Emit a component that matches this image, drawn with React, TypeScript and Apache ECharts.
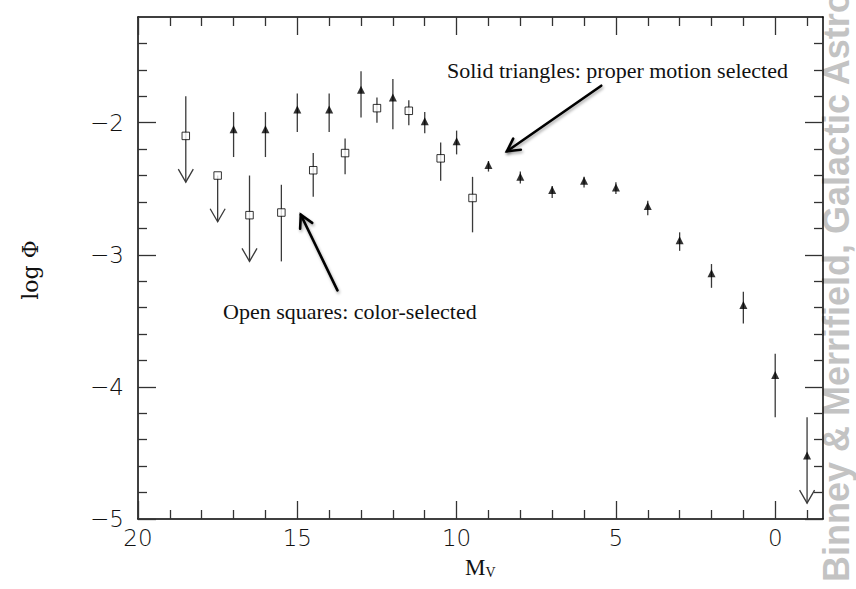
import React, { useEffect, useRef } from 'react';
import * as echarts from 'echarts';

// ---- axis ticks ----
const xMajorTicks = [0, 5, 10, 15, 20];
const xMinorTicks = [-1, 1, 2, 3, 4, 6, 7, 8, 9, 11, 12, 13, 14, 16, 17, 18, 19];
const yMajorTicks = [-5, -4, -3, -2];
const yMinorTicks = [-4.8, -4.6, -4.4, -4.2, -3.8, -3.6, -3.4, -3.2, -2.8, -2.6, -2.4, -2.2, -1.8, -1.6, -1.4];

// ---- open squares: color-selected ----
const squareMv = [18.5, 17.5, 16.5, 15.5, 14.5, 13.5, 12.5, 11.5, 10.5, 9.5];
const squareLogPhi = [-2.10, -2.40, -2.70, -2.68, -2.36, -2.23, -1.89, -1.91, -2.27, -2.57];
const squareHigh = [-1.80, -2.40, -2.40, -2.47, -2.23, -2.12, -1.81, -1.83, -2.15, -2.41];
const squareLow = [-2.45, -2.75, -3.05, -3.05, -2.56, -2.39, -2.00, -2.02, -2.44, -2.83];
const squareUpperLimit = [1, 1, 1, 0, 0, 0, 0, 0, 0, 0];

// ---- solid triangles: proper motion selected ----
const triMv = [17, 16, 15, 14, 13, 12, 11, 10, 9, 8, 7, 6, 5, 4, 3, 2, 1, 0, -1];
const triLogPhi = [-2.05, -2.05, -1.90, -1.90, -1.75, -1.81, -1.99, -2.14, -2.32, -2.41, -2.51, -2.44, -2.49, -2.63, -2.89, -3.14, -3.38, -3.91, -4.52];
const triHigh = [-1.92, -1.92, -1.78, -1.78, -1.61, -1.67, -1.92, -2.06, -2.29, -2.37, -2.48, -2.41, -2.45, -2.59, -2.83, -3.07, -3.28, -3.75, -4.23];
const triLow = [-2.26, -2.26, -2.07, -2.07, -1.96, -2.05, -2.08, -2.24, -2.37, -2.46, -2.57, -2.49, -2.54, -2.70, -2.97, -3.25, -3.52, -4.23, -4.88];
const triUpperLimit = [0, 0, 0, 0, 0, 0, 0, 0, 0, 0, 0, 0, 0, 0, 0, 0, 0, 0, 1];

// ---- annotation arrows (data coords: fromX, fromY, toX, toY) ----
const annotationArrows = [
  [5.46, -1.72, 8.42, -2.216],
  [13.74, -3.269, 14.89, -2.697],
];

const fmt = (v: number) => (v < 0 ? '\u2212' + Math.abs(v) : String(v));

const tickFont = { fontFamily: 'DejaVu Sans', fontWeight: 200 as any, fontSize: 23, color: '#111' };

function makeX(position: 'top' | 'bottom', major: boolean, labels: boolean, line: boolean) {
  return {
    type: 'value',
    position,
    min: -1.5,
    max: 20,
    inverse: true,
    gridIndex: 0,
    splitLine: { show: false },
    axisLine: { show: line, onZero: false, lineStyle: { color: '#000', width: 1.5 } },
    axisTick: {
      show: true,
      inside: true,
      length: major ? 18 : 9,
      customValues: major ? xMajorTicks : xMinorTicks,
      lineStyle: { color: '#333', width: 1.3 },
    },
    axisLabel: labels
      ? { show: true, customValues: xMajorTicks, formatter: fmt, margin: 7, ...tickFont }
      : { show: false },
  };
}

function makeY(position: 'left' | 'right', major: boolean, labels: boolean, line: boolean) {
  return {
    type: 'value',
    position,
    min: -5,
    max: -1.2,
    gridIndex: 0,
    splitLine: { show: false },
    axisLine: { show: line, onZero: false, lineStyle: { color: '#000', width: 1.5 } },
    axisTick: {
      show: true,
      inside: true,
      length: major ? 18 : 9,
      customValues: major ? yMajorTicks : yMinorTicks,
      lineStyle: { color: '#333', width: 1.3 },
    },
    axisLabel: labels
      ? { show: true, customValues: yMajorTicks, formatter: fmt, margin: 14, ...tickFont }
      : { show: false },
  };
}

function errorBarRender(params: any, api: any) {
  const x = api.value(0);
  const lo = api.coord([x, api.value(1)]);
  const hi = api.coord([x, api.value(2)]);
  const limit = api.value(3);
  const style = { stroke: '#3a3a3a', lineWidth: 1.3, fill: 'none' };
  const children: any[] = [
    { type: 'line', shape: { x1: lo[0], y1: lo[1], x2: hi[0], y2: hi[1] }, style },
  ];
  if (limit) {
    children.push({
      type: 'polyline',
      shape: { points: [[lo[0] - 7.5, lo[1] - 13], [lo[0], lo[1]], [lo[0] + 7.5, lo[1] - 13]] },
      style,
    });
  }
  return { type: 'group', children };
}

function arrowRender(params: any, api: any) {
  const p0 = api.coord([api.value(0), api.value(1)]);
  const p1 = api.coord([api.value(2), api.value(3)]);
  const ang = Math.atan2(p0[1] - p1[1], p0[0] - p1[0]);
  const L = 14;
  const a = 0.5;
  const h1 = [p1[0] + L * Math.cos(ang + a), p1[1] + L * Math.sin(ang + a)];
  const h2 = [p1[0] + L * Math.cos(ang - a), p1[1] + L * Math.sin(ang - a)];
  const style = {
    stroke: '#000',
    lineWidth: 2.6,
    fill: 'none',
    lineCap: 'round',
    lineJoin: 'miter',
    shadowBlur: 3,
    shadowColor: 'rgba(0,0,0,0.35)',
    shadowOffsetX: 1,
    shadowOffsetY: 2,
  };
  return {
    type: 'group',
    children: [
      { type: 'line', shape: { x1: p0[0], y1: p0[1], x2: p1[0], y2: p1[1] }, style },
      { type: 'polyline', shape: { points: [h1, p1, h2] }, style },
    ],
  };
}

export default function App() {
  const ref = useRef<HTMLDivElement>(null);
  useEffect(() => {
    document.body.style.margin = '0';
    if (!ref.current) return;
    const chart = echarts.init(ref.current, undefined, { renderer: 'svg' });
    const option: any = {
      animation: false,
      backgroundColor: '#fff',
      grid: { left: 138, right: 33, top: 17, bottom: 70, containLabel: false },
      xAxis: [
        makeX('bottom', true, true, true),
        makeX('bottom', false, false, false),
        makeX('top', true, false, true),
        makeX('top', false, false, false),
      ],
      yAxis: [
        makeY('left', true, true, true),
        makeY('left', false, false, false),
        makeY('right', true, false, true),
        makeY('right', false, false, false),
      ],
      graphic: [
        {
          type: 'text',
          z: -10,
          x: 836,
          y: 582,
          rotation: Math.PI / 2,
          style: {
            text: 'Binney & Merrifield, Galactic Astronomy',
            fill: '#c3c3c3',
            font: 'bold 36px "Liberation Sans", Arial, sans-serif',
            align: 'left',
            verticalAlign: 'middle',
          },
        },
        {
          type: 'text',
          x: 30,
          y: 270,
          rotation: Math.PI / 2,
          style: {
            text: 'log Φ',
            fill: '#111',
            font: '22px "DejaVu Serif", serif',
            align: 'center',
            verticalAlign: 'middle',
          },
        },
        {
          type: 'text',
          x: 465,
          y: 567,
          style: {
            text: '{m|M}{v|V}',
            rich: {
              m: { fontFamily: 'Liberation Serif', fontSize: 23, fill: '#111', color: '#111' },
              v: { fontFamily: 'Liberation Serif', fontSize: 14, fill: '#111', color: '#111', padding: [10, 0, 0, 0] },
            },
            align: 'left',
            verticalAlign: 'middle',
          },
        },
        {
          type: 'text',
          x: 447,
          y: 70,
          style: {
            text: 'Solid triangles: proper motion selected',
            fill: '#111',
            font: '22px "Liberation Serif", "Times New Roman", serif',
            align: 'left',
            verticalAlign: 'middle',
          },
        },
        {
          type: 'text',
          x: 223,
          y: 311,
          style: {
            text: 'Open squares: color-selected',
            fill: '#111',
            font: '22px "Liberation Serif", "Times New Roman", serif',
            align: 'left',
            verticalAlign: 'middle',
          },
        },
      ],
      series: [
        {
          type: 'custom',
          name: 'square errors',
          xAxisIndex: 0,
          yAxisIndex: 0,
          renderItem: errorBarRender,
          encode: { x: 0, y: [1, 2] },
          data: squareMv.map((m, i) => [m, squareLow[i], squareHigh[i], squareUpperLimit[i]]),
          z: 2,
        },
        {
          type: 'custom',
          name: 'triangle errors',
          xAxisIndex: 0,
          yAxisIndex: 0,
          renderItem: errorBarRender,
          encode: { x: 0, y: [1, 2] },
          data: triMv.map((m, i) => [m, triLow[i], triHigh[i], triUpperLimit[i]]),
          z: 2,
        },
        {
          type: 'scatter',
          name: 'Open squares: color-selected',
          xAxisIndex: 0,
          yAxisIndex: 0,
          symbol: 'rect',
          symbolSize: 7.5,
          itemStyle: { color: '#fff', borderColor: '#000', borderWidth: 1 },
          data: squareMv.map((m, i) => [m, squareLogPhi[i]]),
          z: 3,
        },
        {
          type: 'scatter',
          name: 'Solid triangles: proper motion selected',
          xAxisIndex: 0,
          yAxisIndex: 0,
          symbol: 'triangle',
          symbolSize: [8, 8],
          itemStyle: { color: '#000' },
          data: triMv.map((m, i) => [m, triLogPhi[i]]),
          z: 3,
        },
        {
          type: 'custom',
          name: 'annotation arrows',
          xAxisIndex: 0,
          yAxisIndex: 0,
          renderItem: arrowRender,
          encode: { x: [0, 2], y: [1, 3] },
          data: annotationArrows,
          z: 4,
          silent: true,
        },
      ],
    };
    chart.setOption(option);
    return () => chart.dispose();
  }, []);
  return <div ref={ref} style={{ width: 856, height: 589 }} />;
}
